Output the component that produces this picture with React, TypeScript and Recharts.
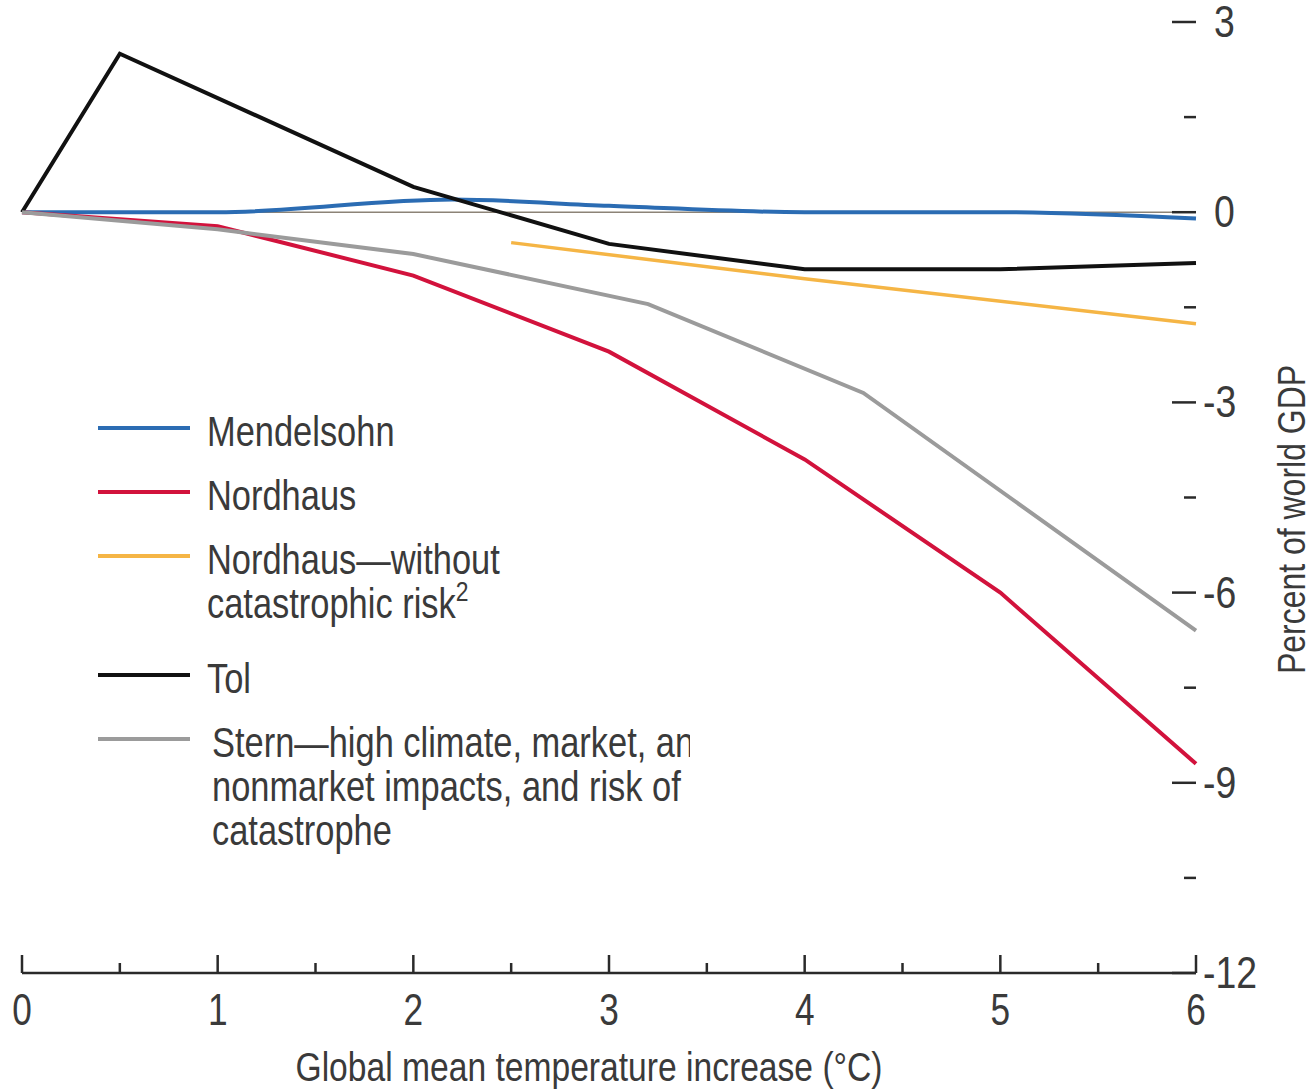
import { LineChart, Line, XAxis, YAxis, Legend, ReferenceLine, Label } from "recharts"

// temperature increase (°C) vs. percent of world GDP
const mendelsohn = [
  { t: 0, v: 0 },
  { t: 1, v: 0 },
  { t: 2.2, v: 0.2 },
  { t: 3, v: 0.1 },
  { t: 4, v: 0 },
  { t: 5, v: 0 },
  { t: 6, v: -0.1 },
]
const nordhaus = [
  { t: 0, v: 0 },
  { t: 1, v: -0.22 },
  { t: 2, v: -1.0 },
  { t: 3, v: -2.2 },
  { t: 4, v: -3.9 },
  { t: 5, v: -6.0 },
  { t: 6, v: -8.7 },
]
const nordhausNoCat = [
  { t: 2.5, v: -0.48 },
  { t: 4, v: -1.05 },
  { t: 6, v: -1.76 },
]
const tol = [
  { t: 0, v: 0 },
  { t: 0.5, v: 2.5 },
  { t: 2, v: 0.4 },
  { t: 3, v: -0.5 },
  { t: 4, v: -0.9 },
  { t: 5, v: -0.9 },
  { t: 6, v: -0.8 },
]
const stern = [
  { t: 0, v: 0 },
  { t: 1, v: -0.27 },
  { t: 2, v: -0.66 },
  { t: 3.2, v: -1.45 },
  { t: 4.3, v: -2.85 },
  { t: 6, v: -6.6 },
]

const xTicks = [0, 0.5, 1, 1.5, 2, 2.5, 3, 3.5, 4, 4.5, 5, 5.5, 6]
const yTicks = [3, 1.5, 0, -1.5, -3, -4.5, -6, -7.5, -9, -10.5, -12]

const seriesNames = ["Mendelsohn", "Nordhaus", "Nordhaus—without", "Tol", "Stern"]
// legend text rows, same order as seriesNames
const legendRows = [
  ["Mendelsohn"],
  ["Nordhaus"],
  ["Nordhaus\u2014without", "catastrophic risk"],
  ["Tol"],
  ["Stern\u2014high climate, market, and", "nonmarket impacts, and risk of", "catastrophe"],
]

const FONT = "'Liberation Sans', Arial, sans-serif"
const TEXT = "#3a3a3a"
const AXIS = "#2a2a2a"
const SQUEEZE = 0.82 // fake a condensed face

function Narrow({ x, y, size, anchor = "start", sx = SQUEEZE, rotate = 0, children }: any) {
  return (
    <text
      transform={`translate(${x} ${y}) rotate(${rotate}) scale(${sx} 1)`}
      textAnchor={anchor}
      fontSize={size}
      fill={TEXT}
      fontFamily={FONT}
    >
      {children}
    </text>
  )
}

function XTick({ x, y, payload }: any) {
  const major = Number.isInteger(payload.value)
  return (
    <g>
      <line x1={x} x2={x} y1={y} y2={y - (major ? 18 : 10)} stroke={AXIS} strokeWidth={2.5} />
      {major && (
        <Narrow x={x} y={y + 52} size={44} anchor="middle" sx={0.8}>
          {payload.value}
        </Narrow>
      )}
    </g>
  )
}

function RightTick({ x, y, payload }: any) {
  const major = payload.value % 3 === 0
  return (
    <g>
      <line x1={x - (major ? 24 : 12)} x2={x} y1={y} y2={y} stroke={AXIS} strokeWidth={2.5} />
      {major && (
        <Narrow x={x + (payload.value < 0 ? 7 : 18)} y={y + 15} size={44} sx={0.85}>
          {payload.value}
        </Narrow>
      )}
    </g>
  )
}

function LeftTick({ x, y, payload }: any) {
  const major = payload.value % 3 === 0
  return <line x1={x} x2={x + (major ? 26 : 13)} y1={y} y2={y} stroke={AXIS} strokeWidth={2.5} />
}

function LegendBox({ payload }: any) {
  const byName = new Map((payload || []).map((p: any) => [p.value, p.color]))
  let y = 28
  const items = seriesNames.map((name, i) => {
    const rows = legendRows[i]
    const top = y
    y += 64 + (rows.length - 1) * 55
    return (
      <g key={name}>
        <line x1={8} x2={100} y1={top} y2={top} stroke={byName.get(name) as string} strokeWidth={4} />
        {rows.map((r, k) => (
          <Narrow key={k} x={i === 4 ? 122 : 117} y={top + 18 + k * 44} size={42}>
            {r}
            {i === 2 && k === 1 && (
              <tspan dy={-17} fontSize={28}>
                2
              </tspan>
            )}
          </Narrow>
        ))}
      </g>
    )
  })
  return (
    <svg width={600} height={470} style={{ display: "block" }}>
      {items}
    </svg>
  )
}

export default function App() {
  return (
    <div style={{ position: "absolute", left: 0, top: 0, background: "#fff" }}>
      <LineChart width={1310} height={1090} margin={{ top: 22, right: 0, bottom: 0, left: 0 }}>
        <XAxis
          dataKey="t"
          type="number"
          domain={[0, 6]}
          ticks={xTicks}
          interval={0}
          height={117}
          tickSize={0}
          tickMargin={0}
          tickLine={false}
          axisLine={{ stroke: AXIS, strokeWidth: 2.5 }}
          tick={<XTick />}
          allowDuplicatedCategory={false}
        >
          <Label
            content={({ viewBox }: any) => (
              <Narrow x={viewBox.x + viewBox.width / 2 - 20} y={viewBox.y + 108} size={41} anchor="middle">
                Global mean temperature increase (°C)
              </Narrow>
            )}
          />
        </XAxis>
        <YAxis
          yAxisId="l"
          orientation="left"
          type="number"
          domain={[-12, 3]}
          ticks={yTicks}
          interval={0}
          width={22}
          tickSize={0}
          tickMargin={0}
          tickLine={false}
          axisLine={false}
          tick={<LeftTick />}
        />
        <YAxis
          yAxisId="r"
          orientation="right"
          type="number"
          domain={[-12, 3]}
          ticks={yTicks}
          interval={0}
          width={114}
          tickSize={0}
          tickMargin={0}
          tickLine={false}
          axisLine={false}
          tick={<RightTick />}
        >
          <Label
            content={({ viewBox }: any) => (
              <Narrow
                x={viewBox.x + viewBox.width - 5}
                y={viewBox.y + viewBox.height / 2 + 22}
                size={39}
                anchor="middle"
                rotate={-90}
              >
                Percent of world GDP
              </Narrow>
            )}
          />
        </YAxis>
        <ReferenceLine yAxisId="r" y={0} stroke="#8c8377" strokeWidth={1.5} />
        <Legend
          layout="vertical"
          align="center"
          verticalAlign="middle"
          content={<LegendBox />}
          wrapperStyle={{ left: 90, top: 400, width: 600, height: 470 }}
        />
        <Line yAxisId="r" name="Mendelsohn" data={mendelsohn} dataKey="v" type="monotone" stroke="#2b6cb3" strokeWidth={4} dot={false} isAnimationActive={false} />
        <Line yAxisId="r" name="Nordhaus" data={nordhaus} dataKey="v" type="linear" stroke="#d2123c" strokeWidth={4} dot={false} isAnimationActive={false} />
        <Line yAxisId="r" name="Nordhaus—without" data={nordhausNoCat} dataKey="v" type="linear" stroke="#f5b545" strokeWidth={3.5} dot={false} isAnimationActive={false} />
        <Line yAxisId="r" name="Tol" data={tol} dataKey="v" type="linear" stroke="#111111" strokeWidth={4} dot={false} isAnimationActive={false} />
        <Line yAxisId="r" name="Stern" data={stern} dataKey="v" type="linear" stroke="#9b9b9b" strokeWidth={4} dot={false} isAnimationActive={false} />
      </LineChart>
    </div>
  )
}
